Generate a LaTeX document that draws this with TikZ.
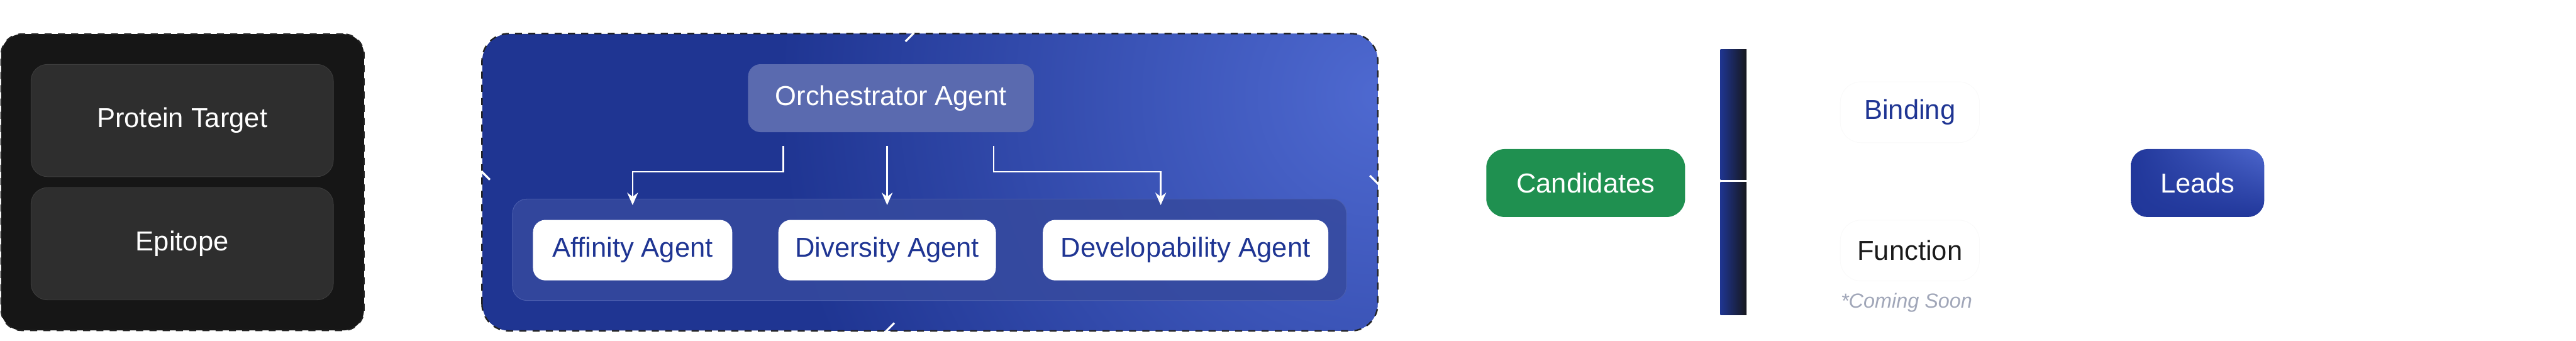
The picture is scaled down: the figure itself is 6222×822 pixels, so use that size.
\documentclass[tikz,border=0pt]{standalone}
\usepackage{fontspec}
\setmainfont{Liberation Sans}
\usetikzlibrary{positioning,arrows.meta,shadings}
\definecolor{InputDark}{HTML}{161616}
\definecolor{EdgeDark}{HTML}{222222}
\definecolor{PanelGrey}{HTML}{2E2E2E}
\definecolor{PanelEdge}{HTML}{3C3C3C}
\definecolor{LoopBlue}{HTML}{1F3592}
\definecolor{LoopGlow}{HTML}{4E69D0}
\definecolor{OrchFill}{HTML}{5A6AAF}
\definecolor{RowFill}{HTML}{364A9E}
\definecolor{RowEdge}{HTML}{4B5EAE}
\definecolor{InkBlue}{HTML}{1F3593}
\definecolor{LeafGreen}{HTML}{1F9050}
\definecolor{BarBlue}{HTML}{1F3590}
\definecolor{BarInk}{HTML}{16171C}
\definecolor{FuncInk}{HTML}{1A1A1A}
\definecolor{SoonGrey}{HTML}{A0A6B8}
\definecolor{LeadBlue}{HTML}{21379A}
\definecolor{LeadGlow}{HTML}{4C66CC}

\begin{document}
\begin{tikzpicture}[
  x=0.01cm, y=-0.01cm,
  lbl/.style={font=\fontsize{18.8}{22.5}\selectfont},
  heading/.style={font=\fontsize{18.2}{23}\selectfont, text=white},
  stagebox/.style={rectangle, rounded corners=0.5cm, draw=EdgeDark, dash pattern=on 0.17cm off 0.15cm, line width=0.035cm},
  panel/.style={rectangle, rounded corners=0.4cm, draw=PanelEdge, fill=PanelGrey, text=white, minimum width=7.3cm, minimum height=2.71cm, lbl},
  agent/.style={rectangle, rounded corners=0.3cm, fill=white, text=InkBlue, minimum height=1.46cm, lbl},
  assay/.style={rectangle, rounded corners=0.5cm, draw=black!2, fill=white, minimum width=3.36cm, minimum height=1.47cm, lbl},
  pill/.style={rectangle, rounded corners=0.42cm, text=white, minimum height=1.64cm, lbl},
  flow/.style={->, >={Stealth[length=0.3cm, width=0.26cm]}, white, line width=0.04cm},
  gochev/.pic={\draw[white, line width=0.035cm] (-28,-16) -- (0,0) -- (-28,16);},
  loopchev/.pic={\draw[white, line width=0.05cm] (-19,-19) -- (0,0) -- (-19,19);}
]
  \useasboundingbox (0,0) rectangle (6222,822);

  % inputs
  \node[stagebox, fill=InputDark, minimum width=8.76cm, minimum height=7.15cm] (input) at (441,440) {};
  \node[panel] (target) at (440,291) {Protein Target};
  \node[panel, below=0.25cm of target] (epitope) {Epitope};

  % mutation loop
  \node[heading, anchor=base west] (looptitle) at (1201,63) {Mutation Loop};
  \node[rectangle, rounded corners=0.65cm, fill=LoopBlue, minimum width=21.61cm, minimum height=7.16cm] (loop) at (2246,440) {};
  \begin{scope}
    \clip[rounded corners=0.65cm] (loop.south west) rectangle (loop.north east);
    \shade[inner color=LoopGlow, outer color=LoopBlue] (3330,230) circle (1450);
  \end{scope}
  \draw[stagebox, rounded corners=0.65cm] (loop.south west) rectangle (loop.north east);
  \node[pill, fill=OrchFill, rounded corners=0.3cm, minimum width=6.9cm] (orch) at (2152,237) {Orchestrator Agent};
  \node[rectangle, rounded corners=0.35cm, fill=RowFill, fill opacity=0.85, draw=RowEdge, minimum width=20.13cm, minimum height=2.45cm] (agents) at (2245,603) {};
  \node[agent, minimum width=4.81cm] (affinity) at (1528,604) {Affinity Agent};
  \node[agent, minimum width=5.25cm, right=1.1cm of affinity] (diversity) {Diversity Agent};
  \node[agent, minimum width=6.89cm, right=1.12cm of diversity] (develop) {Developability Agent};

  \draw[flow, shorten <=0.32cm, shorten >=0.35cm] ([xshift=-2.6cm]orch.south) -- ++(0,95) -| (affinity.north);
  \draw[flow, shorten <=0.32cm, shorten >=0.35cm] (orch.south -| diversity.north) -- (diversity.north);
  \draw[flow, shorten <=0.32cm, shorten >=0.35cm] ([xshift=2.48cm]orch.south) -- ++(0,95) -| ([xshift=-0.6cm]develop.north);

  \pic at ([xshift=-0.4cm]loop.north) {loopchev};
  \pic[rotate=-90] at ([yshift=-0.03cm]loop.east) {loopchev};
  \pic[rotate=180] at ([xshift=-1.05cm]loop.south) {loopchev};
  \pic[rotate=90] at ([yshift=0.25cm]loop.west) {loopchev};

  % screens
  \node[pill, fill=LeafGreen, minimum width=4.8cm, rounded corners=0.45cm] (cands) at (3830,442) {Candidates};
  \node[heading, anchor=base] (screens) at (4190,63) {High-Throughput Quantitative Screens};
  \node[rectangle, inner sep=0, minimum width=0.63cm, minimum height=3.14cm, left color=BarBlue, right color=BarInk] (gatehi) at (4187,277) {};
  \node[rectangle, inner sep=0, minimum width=0.63cm, minimum height=3.19cm, left color=BarBlue, right color=BarInk] (gatelo) at (4187,600) {};
  \node[assay, text=InkBlue] (binding) at (4613,271) {Binding};
  \node[assay, text=FuncInk] (function) at (4613,605) {Function};
  \node[font=\itshape\fontsize{14}{16}\selectfont, text=SoonGrey] (soon) at (4605,731) {*Coming Soon};

  % leads and outcomes
  \node[pill, minimum width=3.22cm, rounded corners=0.4cm,
        upper left=LeadBlue, lower left=LeadBlue, lower right=LeadBlue, upper right=LeadGlow] (leads) at (5308,442) {Leads};
  \node[heading, anchor=base west] (raise) at (5832,292) {Raise};
  \node[heading, anchor=base west, align=left] (preclin) at (5836,587) {Pre-Clinical\\Development};

  \pic at (1095,439) {gochev};
  \pic at (3542,439) {gochev};
  \pic at (4402,270) {gochev};
  \pic at (4402,602) {gochev};
  \pic at (5108,440) {gochev};
  \pic at (5793,269) {gochev};
  \pic at (5793,606) {gochev};
\end{tikzpicture}
\end{document}
